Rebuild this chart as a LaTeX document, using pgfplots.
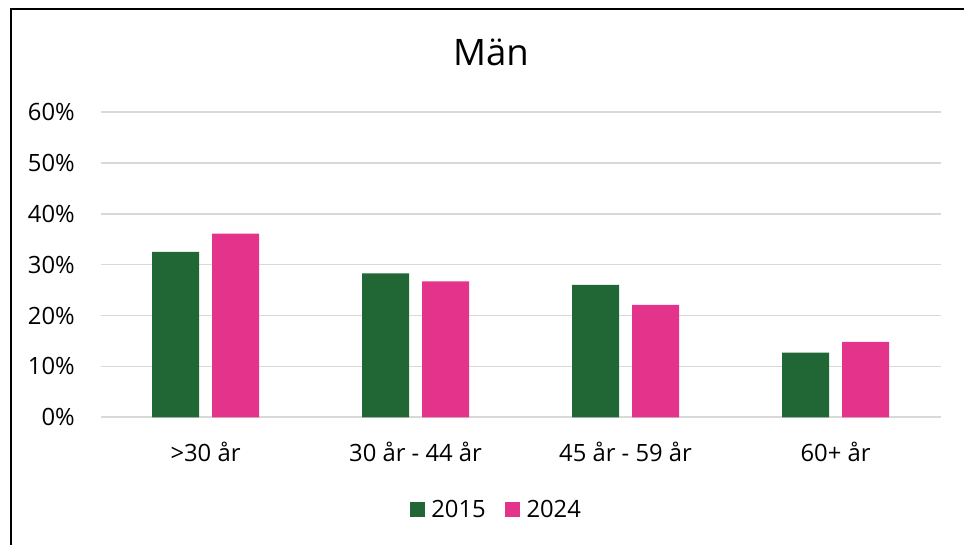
\documentclass[border=0pt]{standalone}
\usepackage{pgfplots}
\pgfplotsset{compat=1.18}
\usepackage{fontspec}
\setmainfont{Open Sans}
\definecolor{cgreen}{HTML}{216635}
\definecolor{cpink}{HTML}{E3338B}
\definecolor{cgrid}{HTML}{D9D9D9}
\begin{document}
\begin{tikzpicture}[x=1pt,y=1pt]
\path[use as bounding box, fill=white] (0,0) rectangle (964,545);
\draw[line width=2pt, black] (11,0) -- (11,536) -- (965,536);
\node[anchor=base, font=\fontsize{36.5}{41}\selectfont, text=black] at (491,479.3) {Män};
\begin{axis}[
  at={(100.5pt,127.7pt)}, anchor=south west, scale only axis,
  width=840pt, height=305.3pt,
  xmin=-0.5, xmax=3.5, ymin=0, ymax=60,
  axis line style={draw=none},
  ymajorgrids, grid style={cgrid, line width=1.6pt},
  major tick length=0pt,
  ytick={0,10,20,30,40,50,60},
  yticklabels={0\%,10\%,20\%,30\%,40\%,50\%,60\%},
  xtick={0,1,2,3},
  xticklabels={>30 år,30 år - 44 år,45 år - 59 år,60+ år},
  yticklabel style={anchor=east, inner sep=0pt, xshift=-25.5pt},
  xticklabel style={anchor=base, inner sep=0pt, yshift=-44.4pt},
  every tick label/.append style={font=\fontsize{23.8}{28}\selectfont, text=black},
  ybar, bar width=47pt,
  legend style={at={(0.470,-0.3036)}, anchor=center, draw=none, fill=none,
    legend columns=2, font=\fontsize{23.8}{28}\selectfont,
    /tikz/every even column/.append style={column sep=19pt},
    nodes={inner sep=0pt, text=black}},
  legend image code/.code={\fill[#1] (0pt,-7.5pt) rectangle (15pt,7.5pt);},
  legend cell align=left,
]
\addplot[fill=cgreen, draw=none, bar shift=-30pt] coordinates {(0,32.5) (1,28.3) (2,26.0) (3,12.7)};
\addplot[fill=cpink, draw=none, bar shift=30pt] coordinates {(0,36.1) (1,26.7) (2,22.1) (3,14.8)};
\legend{\hspace{6.7pt}2015,\hspace{6.7pt}2024}
\end{axis}
\end{tikzpicture}
\end{document}
